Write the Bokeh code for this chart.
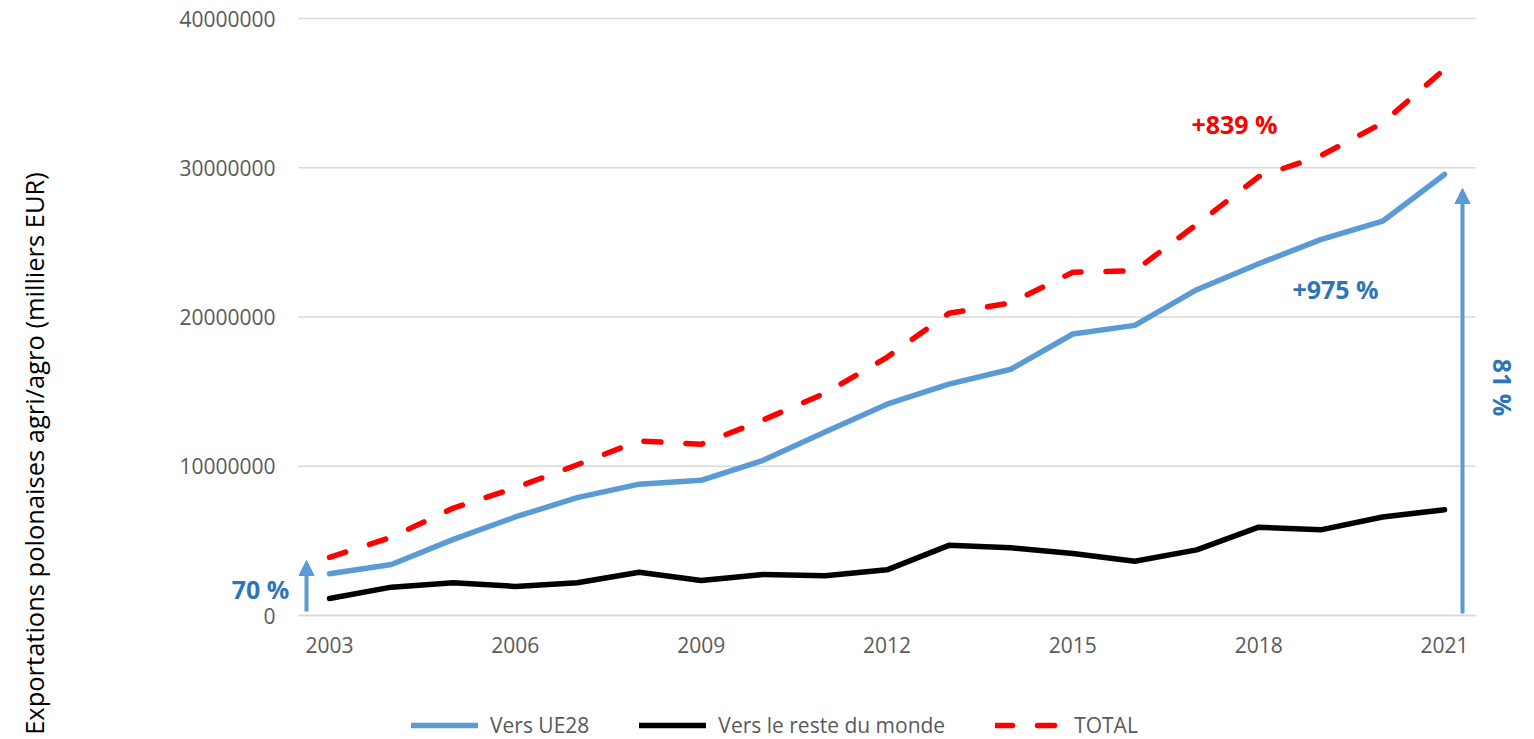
import math
from bokeh.plotting import figure
from bokeh.models import (FixedTicker, BasicTickFormatter, Legend, LegendItem,
                          Label, Arrow, NormalHead, Range1d)
from bokeh.embed import file_html
from bokeh.resources import INLINE

# ---------------- data ----------------
years = list(range(2003, 2022))
vers_ue28 = [2800000, 3420000, 5100000, 6600000, 7900000, 8800000, 9060000, 10400000,
             12300000, 14160000, 15500000, 16500000, 18860000, 19440000, 21830000,
             23570000, 25180000, 26420000, 29550000]
vers_reste = [1140000, 1900000, 2200000, 1950000, 2200000, 2900000, 2350000, 2750000,
              2660000, 3060000, 4700000, 4540000, 4150000, 3640000, 4400000,
              5920000, 5740000, 6600000, 7090000]
total = [3900000, 5250000, 7200000, 8550000, 10100000, 11700000, 11470000, 13100000,
         14900000, 17300000, 20250000, 20950000, 23000000, 23100000, 26200000,
         29400000, 30800000, 33000000, 36600000]
x_tick_labels = [2003, 2006, 2009, 2012, 2015, 2018, 2021]
y_tick_values = [0, 10000000, 20000000, 30000000, 40000000]
series_names = ["Vers UE28", "Vers le reste du monde", "TOTAL"]
annotations = ["70 %", "81 %", "+975 %", "+839 %"]
y_title = "Exportations polonaises agri/agro (milliers EUR)"

# ---------------- layout (pixels) ----------------
W, H = 1534, 739
FL, FR, FT, FB = 298, 1475, 18, 615          # plot-area box in pixels
X0, X1 = 2002.5, 2021.5                      # category span
Y0, Y1 = 0, 40000000
xs = (X1 - X0) / (FR - FL)
ys = (Y1 - Y0) / (FB - FT)
x_start, x_end = X0 - FL * xs, X1 + (W - FR) * xs
y_start, y_end = Y0 - (H - FB) * ys, Y1 + FT * ys


def dx(px):
    return x_start + px * xs


def dy(py):
    return y_end - py * ys


BLUE = "#5B9BD5"
DARK_BLUE = "#2E75B6"
RED = "#FF0000"
GREY_TXT = "#595959"
GRID = "#D9D9D9"
FONT = "Open Sans"

p = figure(width=W, height=H, output_backend="svg", toolbar_location=None,
           x_range=Range1d(x_start, x_end), y_range=Range1d(y_start, y_end),
           min_border=0, min_border_left=0, min_border_right=0,
           min_border_top=0, min_border_bottom=0)
p.outline_line_color = None
p.background_fill_color = "white"
p.border_fill_color = "white"
p.xgrid.visible = False
p.ygrid.visible = False

# horizontal gridlines over the category span
n = len(y_tick_values)
p.segment(x0=[X0] * n, y0=y_tick_values, x1=[X1] * n, y1=y_tick_values,
          line_color=GRID, line_width=1.5)

r_ue = p.line(years, vers_ue28, line_width=5.5, line_color=BLUE,
              line_join="round", line_cap="round")
r_re = p.line(years, vers_reste, line_width=5.5, line_color="black",
              line_join="round", line_cap="round")
r_to = p.line(years, total, line_width=5.5, line_color=RED, line_dash="17 25",
              line_join="round", line_cap="round")

# axes pinned inside the canvas
p.xaxis.fixed_location = Y0
p.xaxis.bounds = (X0, X1)
p.xaxis.ticker = FixedTicker(ticks=x_tick_labels)
p.xaxis.axis_line_color = GRID
p.xaxis.axis_line_width = 1.5
p.xaxis.major_tick_line_color = None
p.xaxis.minor_tick_line_color = None
p.xaxis.major_tick_out = 0
p.xaxis.major_tick_in = 0
p.xaxis.major_label_standoff = 21
p.xaxis.major_label_text_font = FONT
p.xaxis.major_label_text_font_size = "21px"
p.xaxis.major_label_text_color = GREY_TXT

p.yaxis.fixed_location = X0
p.yaxis.bounds = (Y0, Y1)
p.yaxis.ticker = FixedTicker(ticks=y_tick_values)
p.yaxis.formatter = BasicTickFormatter(use_scientific=False)
p.yaxis.axis_line_color = None
p.yaxis.major_tick_line_color = None
p.yaxis.minor_tick_line_color = None
p.yaxis.major_tick_out = 0
p.yaxis.major_tick_in = 0
p.yaxis.major_label_standoff = 23
p.yaxis.major_label_text_font = FONT
p.yaxis.major_label_text_font_size = "21px"
p.yaxis.major_label_text_color = GREY_TXT

# legend
legend = Legend(items=[LegendItem(label=series_names[0], renderers=[r_ue]),
                       LegendItem(label=series_names[1], renderers=[r_re]),
                       LegendItem(label=series_names[2], renderers=[r_to])],
                location=(411, 0), orientation="horizontal",
                glyph_width=67, glyph_height=20, label_standoff=12, spacing=50,
                padding=0, margin=0, border_line_color=None,
                background_fill_alpha=0, label_text_font=FONT,
                label_text_font_size="21px", label_text_color=GREY_TXT)
p.add_layout(legend)

# arrows
p.add_layout(Arrow(end=NormalHead(size=15, fill_color=BLUE, line_color=BLUE),
                   x_start=dx(306), y_start=dy(611), x_end=dx(306), y_end=dy(560),
                   line_color=BLUE, line_width=4))
p.add_layout(Arrow(end=NormalHead(size=15, fill_color=BLUE, line_color=BLUE),
                   x_start=dx(1462), y_start=dy(613), x_end=dx(1462), y_end=dy(188),
                   line_color=BLUE, line_width=4))


def add_label(px, py, text, color, angle=0.0, size="25px", style="bold"):
    p.add_layout(Label(x=dx(px), y=dy(py), text=text, text_color=color,
                       text_font=FONT, text_font_size=size,
                       text_font_style=style, text_align="center",
                       text_baseline="middle", angle=angle))


add_label(260, 588, annotations[0], DARK_BLUE)
add_label(1502, 387, annotations[1], DARK_BLUE, angle=-math.pi / 2)
add_label(1335, 288, annotations[2], DARK_BLUE)
add_label(1234, 123, annotations[3], RED)
add_label(33, 453, y_title, "black", angle=math.pi / 2, size="25.5px",
          style="normal")

open("out.html", "w").write(file_html(p, INLINE))
